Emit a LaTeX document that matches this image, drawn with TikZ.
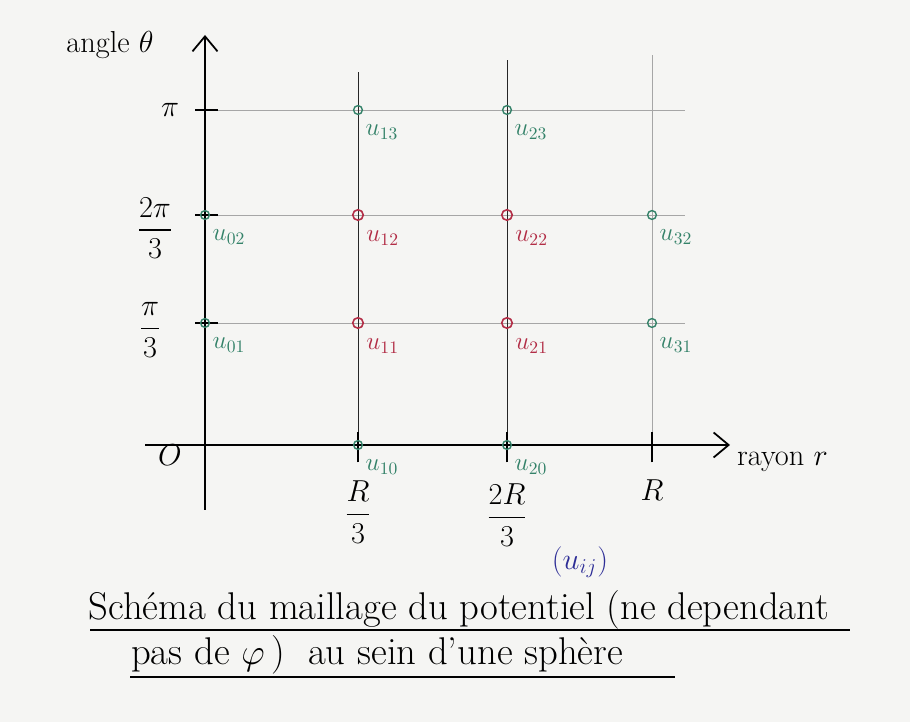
\documentclass[tikz,border=0pt]{standalone}
\usepackage{tikz}
\usetikzlibrary{arrows.meta,positioning}
\usepackage{amsmath}
\definecolor{paper}{RGB}{245,245,243}
\definecolor{meshgreen}{RGB}{52,130,105}
\definecolor{meshred}{RGB}{178,45,70}
\definecolor{inkblue}{RGB}{45,45,150}
\tikzset{
  axisline/.style={line width=1pt, -{Straight Barb[length=3mm,width=5mm]}},
  gridline/.style={gray!70, line width=0.4pt},
  colline/.style={black!85, line width=0.5pt},
  greenpt/.style={circle, draw=meshgreen, line width=0.8pt, inner sep=0pt, minimum size=5pt},
  redpt/.style={circle, draw=meshred, line width=0.9pt, inner sep=0pt, minimum size=6pt},
  greenlbl/.style={text=meshgreen, font=\Large, inner sep=1pt},
  redlbl/.style={text=meshred, font=\Large, inner sep=1pt},
  ticklbl/.style={font=\LARGE, inner sep=1pt}
}
\begin{document}
\begin{tikzpicture}[font=\small]
\fill[paper] (0,0) rectangle (18.2,14.44);
\useasboundingbox (0,0) rectangle (18.2,14.44);
\def\xo{4.1} \def\xa{7.16} \def\xb{10.14} \def\xc{13.04}
\def\yo{5.54} \def\ya{7.98} \def\yb{10.14} \def\yc{12.24}
% grid
\foreach \y/\n in {\ya/a, \yb/b, \yc/c} {
  \coordinate (hl\n) at (3.9,\y);
  \coordinate (hr\n) at (13.7,\y);
  \draw[gridline] (hl\n) -- (hr\n);
}
\coordinate (ca) at (\xa,13.0);
\coordinate (cb) at (\xb,13.24);
\coordinate (cc) at (\xc,13.34);
\coordinate (ba) at (\xa,\yo);
\coordinate (bb) at (\xb,\yo);
\draw[colline] (ba) -- (ca);
\draw[colline] (bb) -- (cb);
\draw[gridline] (\xc,\yo) -- (cc);
% axes
\coordinate (ybot) at (\xo,4.24);
\coordinate (ytop) at (\xo,13.74);
\coordinate (xleft) at (2.9,\yo);
\coordinate (xright) at (14.6,\yo);
\draw[axisline] (ybot) -- (ytop);
\draw[axisline] (xleft) -- (xright);
% ticks
\foreach \y in {\ya, \yb, \yc} \draw[line width=0.8pt] (\xo-0.2,\y) -- (\xo+0.25,\y);
\foreach \x in {\xa, \xb, \xc} \draw[line width=0.8pt] (\x,\yo-0.35) -- (\x,\yo+0.25);
% axis labels
\node[ticklbl] (theta) at (2.2,13.54) {angle $\theta$};
\node[ticklbl, anchor=west] (rayon) at (14.7,5.2) {rayon $r$};
\node[ticklbl] (orig) at (3.4,5.34) {$O$};
\node[ticklbl] (pi) at (3.4,\yc) {$\pi$};
\node[ticklbl] (twopi) at (3.1,9.88) {$\dfrac{2\pi}{3}$};
\node[ticklbl] (onepi) at (3.0,7.84) {$\dfrac{\pi}{3}$};
\node[ticklbl] (rthird) at (\xa,4.2) {$\dfrac{R}{3}$};
\node[ticklbl] (rtwo) at (\xb,4.14) {$\dfrac{2R}{3}$};
\node[ticklbl] (rfull) at (\xc,4.64) {$R$};
% mesh points
\foreach \n/\x/\y/\s in {13/\xa/\yc/green, 23/\xb/\yc/green,
    02/\xo/\yb/green, 12/\xa/\yb/red, 22/\xb/\yb/red, 32/\xc/\yb/green,
    01/\xo/\ya/green, 11/\xa/\ya/red, 21/\xb/\ya/red, 31/\xc/\ya/green,
    10/\xa/\yo/green, 20/\xb/\yo/green} {
  \node[\s pt] (u\n) at (\x,\y) {};
  \node[\s lbl, below right=0.18cm and 0.04cm of u\n] (l\n) {$u_{\n}$};
}
% caption
\node[inkblue, font=\LARGE] (uij) at (11.6,3.2) {$(u_{ij})$};
\node[font=\fontsize{22}{26}\selectfont, anchor=base west] (cap1) at (1.65,2.05)
  {Sch\'ema du maillage du potentiel (ne dependant};
\node[font=\fontsize{22}{26}\selectfont, anchor=base west] (cap2) at (2.5,1.15)
  {pas de $\varphi$\,) \ au sein d'une sph\`ere};
\draw[line width=0.7pt] (1.8,1.84) -- (17.0,1.84);
\draw[line width=0.7pt] (2.6,0.9) -- (13.5,0.9);
\end{tikzpicture}
\end{document}
